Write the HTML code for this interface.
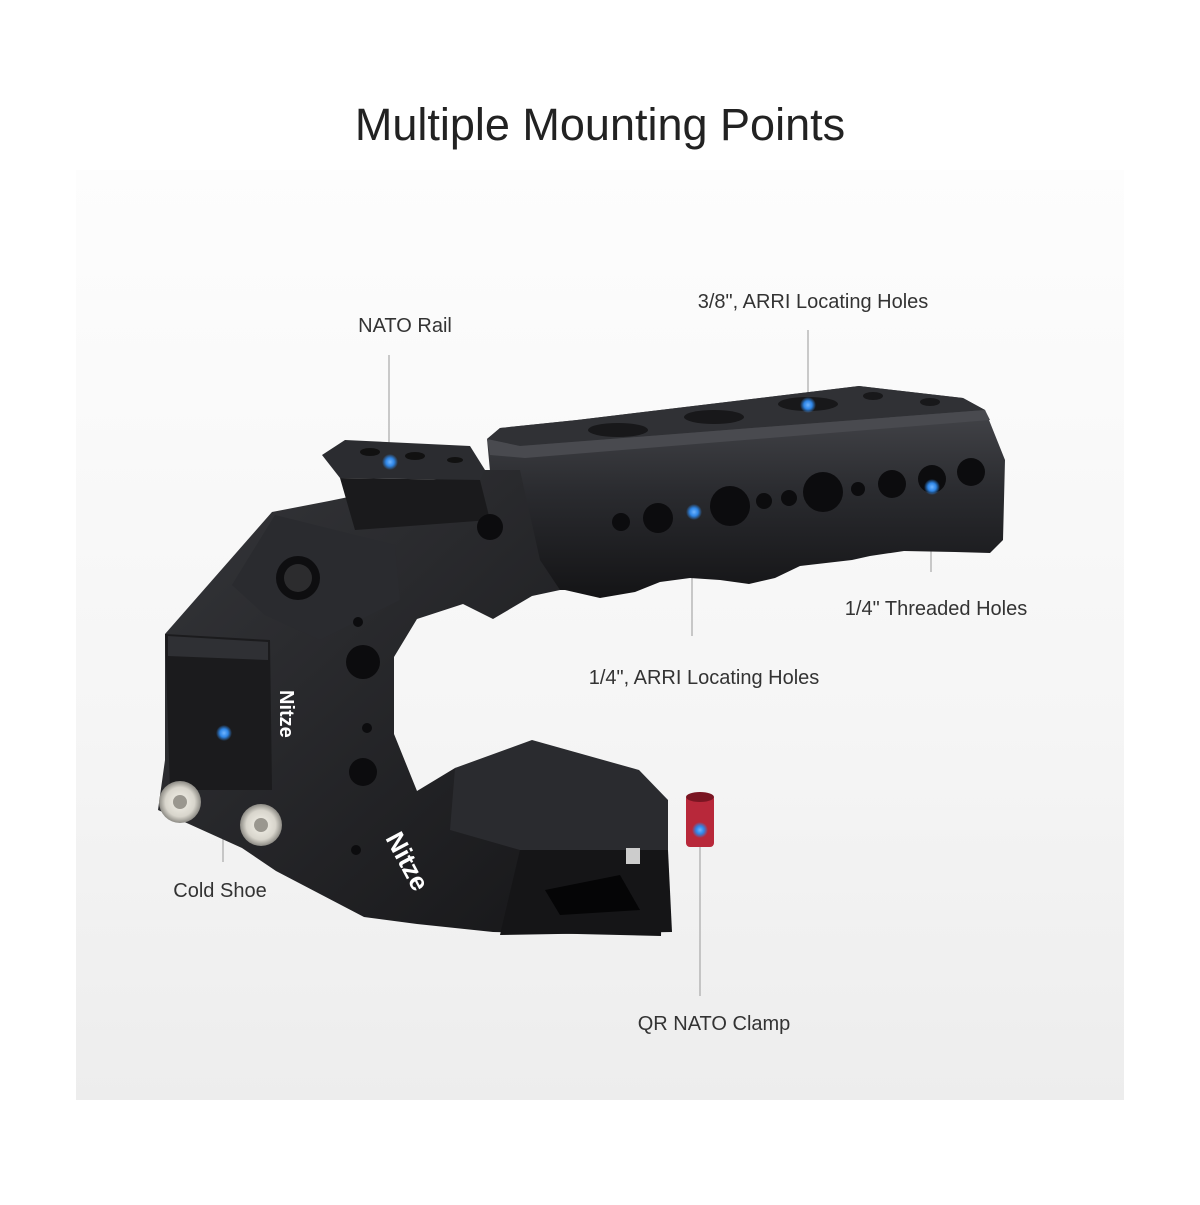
<!DOCTYPE html>
<html><head><meta charset="utf-8"><style>
html,body{margin:0;padding:0;background:#fff;}
body{width:1200px;height:1200px;position:relative;overflow:hidden;font-family:"Liberation Sans",sans-serif;}
</style></head><body>
<svg width="1200" height="1200" viewBox="0 0 1200 1200" xmlns="http://www.w3.org/2000/svg">
<defs>
<linearGradient id="bg" x1="0" y1="0" x2="0" y2="1">
<stop offset="0" stop-color="#fdfdfd"/><stop offset="0.6" stop-color="#f5f5f5"/><stop offset="1" stop-color="#ededed"/>
</linearGradient>
<linearGradient id="front" x1="0" y1="0" x2="0" y2="1">
<stop offset="0" stop-color="#4a4b50"/><stop offset="0.5" stop-color="#2a2b2f"/><stop offset="1" stop-color="#141416"/>
</linearGradient>
<linearGradient id="body" x1="0" y1="0" x2="1" y2="1">
<stop offset="0" stop-color="#35363a"/><stop offset="1" stop-color="#141416"/>
</linearGradient>
<radialGradient id="dot"><stop offset="0" stop-color="#6fb4ff"/><stop offset="0.5" stop-color="#2f86e6"/><stop offset="1" stop-color="#2f86e6" stop-opacity="0"/></radialGradient>
<radialGradient id="screw"><stop offset="0" stop-color="#f4f2ea"/><stop offset="0.7" stop-color="#d8d5cc"/><stop offset="1" stop-color="#8c8a84"/></radialGradient>
</defs>
<rect x="76" y="170" width="1048" height="930" fill="url(#bg)"/>
<text x="600" y="140" text-anchor="middle" font-size="45" fill="#222" font-family="Liberation Sans, sans-serif">Multiple Mounting Points</text>

<!-- connectors -->
<g stroke="#a8a8a8" stroke-width="1.2">
<line x1="389" y1="355" x2="389" y2="460"/>
<line x1="808" y1="330" x2="808" y2="404"/>
<line x1="931" y1="485" x2="931" y2="572"/>
<line x1="692" y1="512" x2="692" y2="636"/>
<line x1="223" y1="735" x2="223" y2="862"/>
<line x1="700" y1="840" x2="700" y2="996"/>
</g>

<!-- top bar -->
<path d="M487,439 L500,428 L577,420 L859,386 L963,398 L985,410 L1005,460 L1003,540 L990,553 L955,552 L904,551 L870,556 L852,560 L826,563 L800,566 L775,578 L749,584 L720,580 L690,578 L660,582 L635,592 L600,598 L565,590 L530,590 L500,578 Z" fill="url(#front)"/>
<path d="M487,439 L500,428 L577,420 L859,386 L963,398 L985,410 L520,446 Z" fill="#303135"/>
<path d="M487,439 L520,446 L985,410 L990,420 L525,458 L490,455 Z" fill="#494a4f"/>
<g fill="#18181a">
<ellipse cx="618" cy="430" rx="30" ry="7"/><ellipse cx="714" cy="417" rx="30" ry="7"/><ellipse cx="808" cy="404" rx="30" ry="7"/><ellipse cx="873" cy="396" rx="10" ry="4"/><ellipse cx="930" cy="402" rx="10" ry="4"/>
</g>

<!-- C body -->
<path d="M329,501 L272,512 L165,634 L165,760 L158,810 L242,848 L276,871 L364,917 L417,924 L493,932 L661,936 L665,810 L639,779 L532,753 L455,768 L417,791 L394,734 L394,657 L417,619 L463,604 L493,619 L532,596 L560,590 L540,560 L520,470 L480,470 Z" fill="url(#body)"/>
<!-- NATO rail -->
<path d="M322,455 L345,440 L470,446 L485,470 L480,480 L340,478 Z" fill="#2b2c30"/>
<path d="M340,478 L480,480 L490,520 L355,530 Z" fill="#1a1a1c"/>
<g fill="#111"><ellipse cx="370" cy="452" rx="10" ry="4"/><ellipse cx="415" cy="456" rx="10" ry="4"/><ellipse cx="455" cy="460" rx="8" ry="3"/></g>
<!-- plate with 1/4 hole -->
<path d="M275,515 L395,545 L400,600 L320,640 L265,615 L232,585 Z" fill="#2a2b2f"/>
<circle cx="298" cy="578" r="22" fill="#0e0e10"/>
<circle cx="298" cy="578" r="14" fill="#2c2c2e"/>
<!-- cold shoe -->
<path d="M165,634 L270,640 L272,790 L170,790 Z" fill="#1b1b1d"/>
<path d="M168,636 L268,642 L268,660 L168,656 Z" fill="#2f3034"/>
<!-- body holes -->
<g fill="#0c0c0e">
<circle cx="490" cy="527" r="13"/><circle cx="363" cy="662" r="17"/><circle cx="367" cy="728" r="5"/><circle cx="363" cy="772" r="14"/><circle cx="358" cy="622" r="5"/><circle cx="356" cy="850" r="5"/>
<circle cx="621" cy="522" r="9"/><circle cx="658" cy="518" r="15"/><circle cx="730" cy="506" r="20"/><circle cx="764" cy="501" r="8"/><circle cx="789" cy="498" r="8"/><circle cx="823" cy="492" r="20"/><circle cx="858" cy="489" r="7"/><circle cx="892" cy="484" r="14"/><circle cx="932" cy="479" r="14"/><circle cx="971" cy="472" r="14"/>
</g>
<!-- clamp -->
<path d="M455,768 L532,740 L639,770 L668,800 L668,850 L520,850 L450,830 Z" fill="#2a2b2f"/>
<path d="M520,850 L668,850 L672,932 L500,935 Z" fill="#151517"/>
<path d="M545,890 L620,875 L640,910 L560,915 Z" fill="#050506"/>
<rect x="626" y="848" width="14" height="16" fill="#ccc"/>
<rect x="686" y="795" width="28" height="52" rx="4" fill="#b8283a"/>
<ellipse cx="700" cy="797" rx="14" ry="5" fill="#7a1522"/>
<!-- screws -->
<circle cx="180" cy="802" r="21" fill="url(#screw)"/>
<circle cx="261" cy="825" r="21" fill="url(#screw)"/>
<circle cx="180" cy="802" r="7" fill="#9a978f"/>
<circle cx="261" cy="825" r="7" fill="#9a978f"/>
<!-- Nitze -->
<text x="0" y="0" transform="translate(280,690) rotate(90)" font-size="20" font-weight="bold" fill="#fff" font-family="Liberation Sans, sans-serif">Nitze</text>
<text x="0" y="0" transform="translate(385,838) rotate(62)" font-size="26" font-weight="bold" fill="#fff" font-family="Liberation Sans, sans-serif">Nitze</text>

<!-- blue dots -->
<g fill="url(#dot)">
<circle cx="390" cy="462" r="8"/><circle cx="808" cy="405" r="8"/><circle cx="932" cy="487" r="8"/><circle cx="694" cy="512" r="8"/><circle cx="224" cy="733" r="8"/><circle cx="700" cy="830" r="8"/>
</g>

<!-- labels -->
<g font-size="20" fill="#333" font-family="Liberation Sans, sans-serif">
<text x="405" y="332" text-anchor="middle">NATO Rail</text>
<text x="813" y="308" text-anchor="middle">3/8", ARRI Locating Holes</text>
<text x="936" y="615" text-anchor="middle">1/4" Threaded Holes</text>
<text x="704" y="684" text-anchor="middle">1/4", ARRI Locating Holes</text>
<text x="220" y="897" text-anchor="middle">Cold Shoe</text>
<text x="714" y="1030" text-anchor="middle">QR NATO Clamp</text>
</g>
</svg>
</body></html>
